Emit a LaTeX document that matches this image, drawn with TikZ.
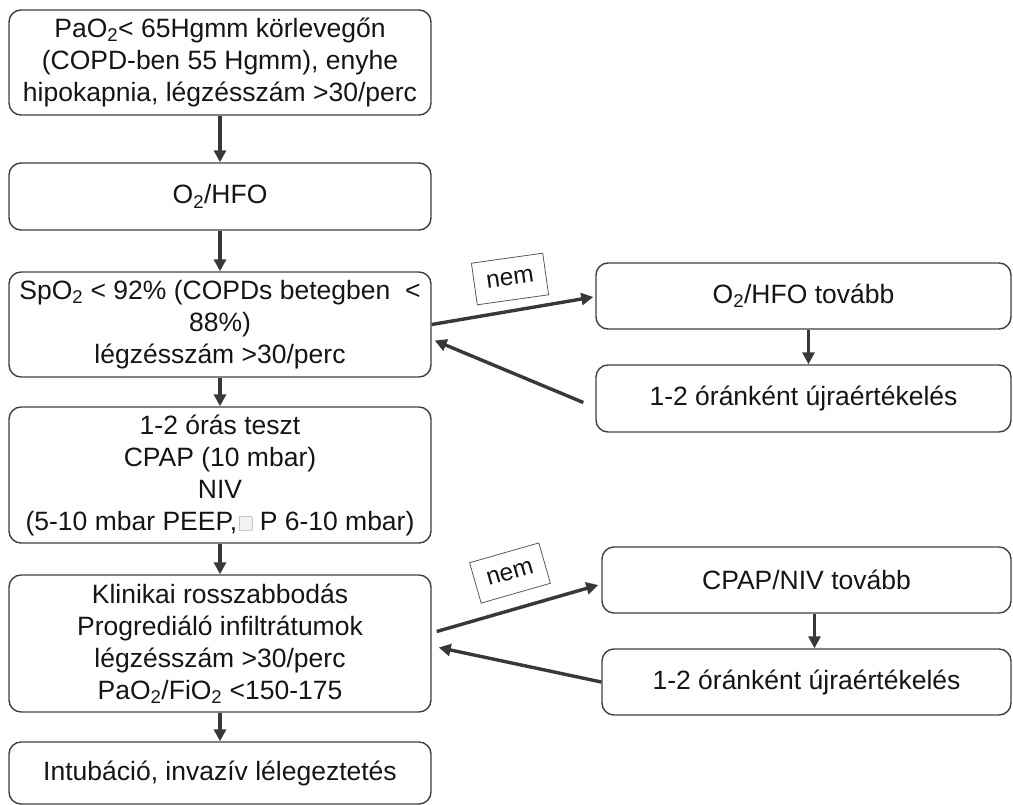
\documentclass[tikz,border=0pt]{standalone}
\usepackage{fontspec}
\setmainfont{Liberation Sans}
\usetikzlibrary{arrows.meta,calc}
\definecolor{boxc}{HTML}{404040}
\definecolor{arrc}{HTML}{383838}
\definecolor{txtc}{HTML}{151515}
\newcommand{\sqglyph}{{\setlength{\fboxsep}{0pt}\setlength{\fboxrule}{0.6pt}\fcolorbox{gray!45}{gray!10}{\rule{0pt}{13pt}\hspace{12pt}}}}
\begin{document}
\begin{tikzpicture}[x=1pt,y=-1pt,
  box/.style={draw=boxc, line width=1.4pt, rounded corners=12pt, align=center,
    font=\fontsize{26.5}{32}\selectfont, text=txtc, inner sep=0pt},
  mainbox/.style={box, minimum width=422pt},
  sidebox/.style={box, minimum height=66pt},
  arr/.style={draw=arrc, line width=3.4pt, -{Triangle[length=12pt,width=12pt]}},
  nemlabel/.style={draw=gray!70!black, line width=0.8pt, fill=white, text=txtc,
    minimum width=72pt, minimum height=42pt, inner sep=0pt,
    font=\fontsize{24.5}{28}\selectfont}]
\useasboundingbox (0,0) rectangle (1013,805);

% main column
\node[mainbox, minimum height=105pt] (b1) at (220,62.5)
  {PaO\textsubscript{2}< 65Hgmm körlevegőn\\(COPD-ben 55 Hgmm), enyhe\\hipokapnia, légzésszám >30/perc};
\node[mainbox, minimum height=67pt] (b2) at (220,196.5) {O\textsubscript{2}/HFO};
\node[mainbox, minimum height=105pt] (b3) at (220,324.5)
  {SpO\textsubscript{2} < 92\% (COPDs betegben~ <\\88\%)\\légzésszám >30/perc};
\node[mainbox, minimum height=136pt] (b4) at (220,475)
  {1-2 órás teszt\\CPAP (10 mbar)\\NIV\\(5-10 mbar PEEP,\hspace{2pt}\sqglyph{} P 6-10 mbar)};
\node[mainbox, minimum height=137pt] (b5) at (220,643.5)
  {Klinikai rosszabbodás\\Progrediáló infiltrátumok\\légzésszám >30/perc\\PaO\textsubscript{2}/FiO\textsubscript{2} <150-175};
\node[mainbox, minimum height=62pt] (b6) at (220,773) {Intubáció, invazív lélegeztetés};

% right column
\node[sidebox, minimum width=415pt] (r1) at (803.5,296) {O\textsubscript{2}/HFO tovább};
\node[sidebox, minimum width=415pt, minimum height=67pt] (r2) at (803.5,398.5) {1-2 óránként újraértékelés};
\node[sidebox, minimum width=409pt] (r3) at (806.5,580) {CPAP/NIV tovább};
\node[sidebox, minimum width=409pt] (r4) at (806.5,682) {1-2 óránként újraértékelés};

% labels
\node[nemlabel, rotate=8] (n1) at (510,279) {nem};
\node[nemlabel, rotate=16] (n2) at (510,573) {nem};

% vertical arrows
\draw[arr] (b1.south) -- (b2.north);
\draw[arr] (b2.south) -- (b3.north);
\draw[arr] (b3.south) -- (b4.north);
\draw[arr] (b4.south) -- (b5.north);
\draw[arr] (b5.south) -- (b6.north);
\draw[arr] ($(r1.south)+(5,0)$) -- ($(r2.north)+(5,0)$);
\draw[arr] ($(r3.south)+(8,0)$) -- ($(r4.north)+(8,0)$);

% loops
\draw[arr] (b3.east) -- ($(r1.west)+(-2,1)$);
\draw[arr] ($(r2.west)+(-12,4)$) -- ($(b3.east)+(3,16)$);
\draw[arr] ($(b5.east)+(5,-12)$) -- ($(r3.west)+(-3,5)$);
\draw[arr] (r4.west) -- ($(b5.east)+(7,4)$);
\end{tikzpicture}
\end{document}
